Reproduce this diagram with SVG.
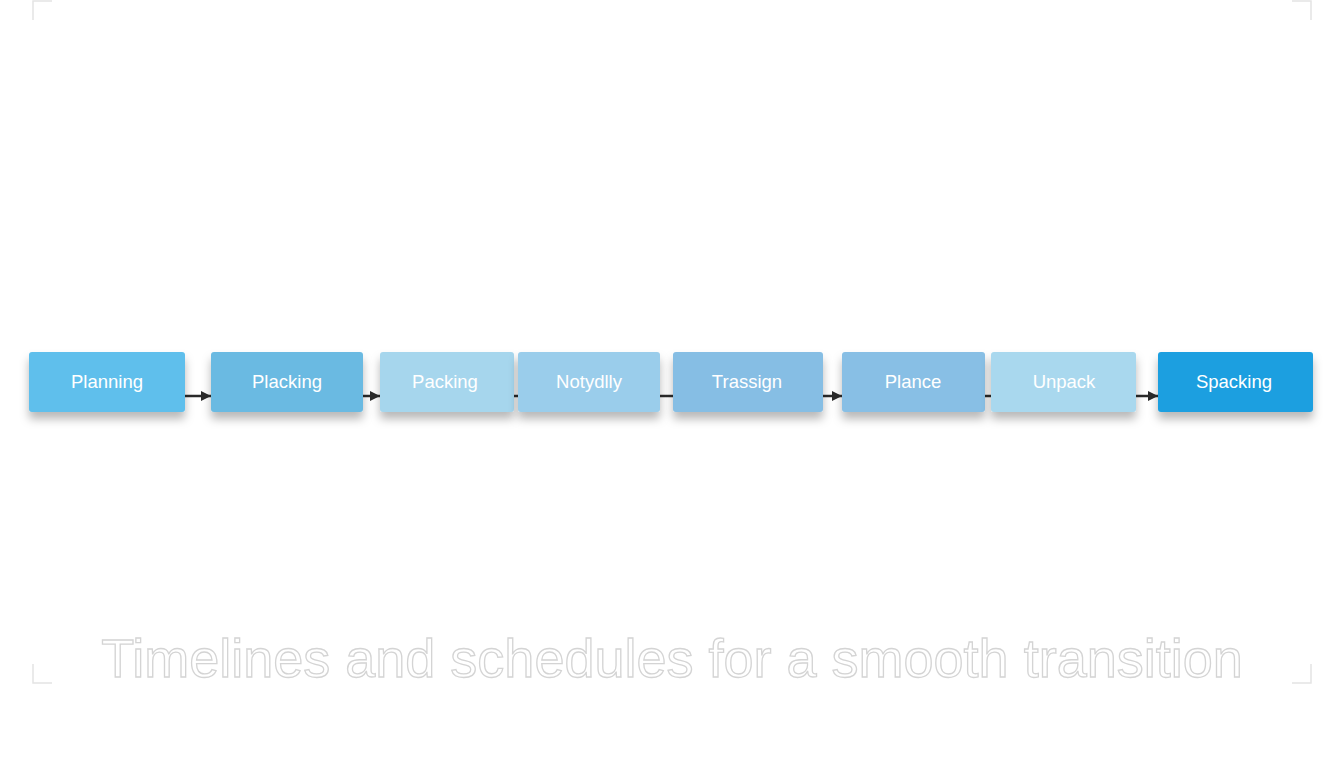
<svg xmlns="http://www.w3.org/2000/svg" width="1344" height="768" viewBox="0 0 1344 768">
<defs>
<filter id="sh" x="-20%" y="-30%" width="140%" height="190%">
<feDropShadow dx="0" dy="7" stdDeviation="5" flood-color="#000" flood-opacity="0.28"/>
</filter>
<marker id="ah" viewBox="0 0 10 10" refX="10" refY="5" markerWidth="10" markerHeight="10" markerUnits="userSpaceOnUse" orient="auto">
<path d="M0,0 L10,5 L0,10 z" fill="#2a2a2a"/>
</marker>
</defs>
<style>
.box{filter:url(#sh)}
.lbl{font-family:"Liberation Sans",Arial,sans-serif;font-size:18.5px;fill:#ffffff;text-anchor:middle;dominant-baseline:central}
.con{stroke:#2a2a2a;stroke-width:2.5;fill:none}
.corner{stroke:#e4e4e4;stroke-width:1.5;fill:none}
.title{font-family:"Liberation Sans",Arial,sans-serif;font-size:54px;fill:#ffffff;stroke:#d4d4d4;stroke-width:1.3;text-anchor:middle}
</style>
<rect width="1344" height="768" fill="#ffffff"/>
<g id="corners">
<path class="corner" d="M33,20 V1 H52"/>
<path class="corner" d="M1311,20 V1 H1292"/>
<path class="corner" d="M33,664 V683 H52"/>
<path class="corner" d="M1311,664 V683 H1292"/>
</g>
<g id="connectors">
<line class="con" x1="185" y1="396" x2="211" y2="396" marker-end="url(#ah)"/>
<line class="con" x1="363" y1="396" x2="380" y2="396" marker-end="url(#ah)"/>
<line class="con" x1="514" y1="396" x2="518" y2="396"/>
<line class="con" x1="660" y1="396" x2="673" y2="396"/>
<line class="con" x1="823" y1="396" x2="842" y2="396" marker-end="url(#ah)"/>
<line class="con" x1="985" y1="396" x2="991" y2="396"/>
<line class="con" x1="1136" y1="396" x2="1158" y2="396" marker-end="url(#ah)"/>
</g>
<g id="n1"><rect class="box" x="29" y="352" width="156" height="60" rx="3" fill="#5ebfec"/><text class="lbl" x="107" y="381">Planning</text></g>
<g id="n2"><rect class="box" x="211" y="352" width="152" height="60" rx="3" fill="#6bbae2"/><text class="lbl" x="287" y="381">Placking</text></g>
<g id="n3"><rect class="box" x="380" y="352" width="134" height="60" rx="3" fill="#a6d6ed"/><text class="lbl" x="445" y="381">Packing</text></g>
<g id="n4"><rect class="box" x="518" y="352" width="142" height="60" rx="3" fill="#9acdeb"/><text class="lbl" x="589" y="381">Notydlly</text></g>
<g id="n5"><rect class="box" x="673" y="352" width="150" height="60" rx="3" fill="#86bee4"/><text class="lbl" x="747" y="381">Trassign</text></g>
<g id="n6"><rect class="box" x="842" y="352" width="143" height="60" rx="3" fill="#88bfe5"/><text class="lbl" x="913" y="381">Plance</text></g>
<g id="n7"><rect class="box" x="991" y="352" width="145" height="60" rx="3" fill="#a9d8ee"/><text class="lbl" x="1064" y="381">Unpack</text></g>
<g id="n8"><rect class="box" x="1158" y="352" width="155" height="60" rx="3" fill="#1f9fe0"/><text class="lbl" x="1234" y="381">Spacking</text></g>
<g id="title"><text class="title" x="672" y="677">Timelines and schedules for a smooth transition</text></g>
</svg>
